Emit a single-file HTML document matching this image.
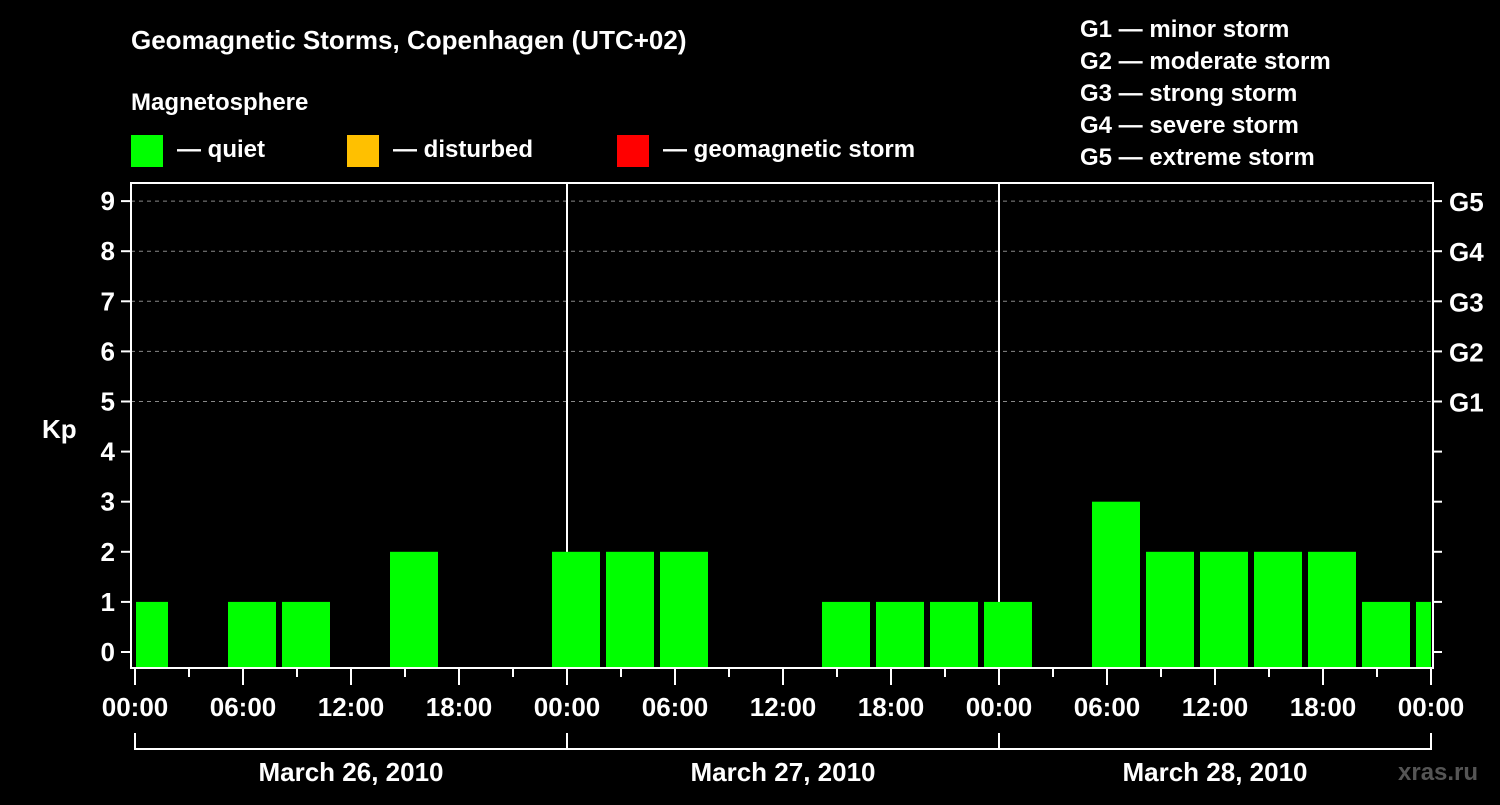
<!DOCTYPE html>
<html><head><meta charset="utf-8"><style>
html,body{margin:0;padding:0;background:#000;}
svg text{font-family:"Liberation Sans",sans-serif;font-weight:bold;fill:#fff;}
</style></head><body>
<svg width="1500" height="800" xmlns="http://www.w3.org/2000/svg">
<rect width="1500" height="800" fill="#000"/>
<text x="131" y="49" font-size="26">Geomagnetic Storms, Copenhagen (UTC+02)</text>
<text x="131" y="110" font-size="24">Magnetosphere</text>
<rect x="131" y="135" width="32" height="32" fill="#00ff00"/>
<text x="177" y="157" font-size="24">— quiet</text>
<rect x="347" y="135" width="32" height="32" fill="#ffc000"/>
<text x="393" y="157" font-size="24">— disturbed</text>
<rect x="617" y="135" width="32" height="32" fill="#ff0000"/>
<text x="663" y="157" font-size="24">— geomagnetic storm</text>
<g font-size="24">
<text x="1080" y="37">G1 — minor storm</text>
<text x="1080" y="69">G2 — moderate storm</text>
<text x="1080" y="101">G3 — strong storm</text>
<text x="1080" y="133">G4 — severe storm</text>
<text x="1080" y="165">G5 — extreme storm</text>
</g>
<text x="42" y="438" font-size="26">Kp</text>
<g id="plot"></g>
<text x="1398" y="780" font-size="24" style="fill:#555">xras.ru</text>
</svg>
<script>
const kpValues=[1,0,1,1,0,2,0,0,2,2,2,0,0,1,1,1,1,0,3,2,2,2,2,1,1];
const yTicks=[0,1,2,3,4,5,6,7,8,9];
const gLabels=["G1","G2","G3","G4","G5"];
const hourLabels=["00:00","06:00","12:00","18:00"];
const dayLabels=["March 26, 2010","March 27, 2010","March 28, 2010"];
const NS="http://www.w3.org/2000/svg";
const g=document.getElementById('plot');
const L=131,R=1433,T=183,B=668,X0=135,PXH=18;
const y=v=>652-v*50.1;
const x=h=>X0+h*PXH;
function mk(tag,attrs,parent){const e=document.createElementNS(NS,tag);for(const k in attrs)e.setAttribute(k,attrs[k]);(parent||g).appendChild(e);return e;}
// grid
for(let v=5;v<=9;v++){const e=mk('line',{x1:L,x2:R,y1:y(v),y2:y(v),stroke:'#888','stroke-width':1,'stroke-dasharray':'4,4'});

}
// day separators
[1,2].forEach(d=>{const e=mk('line',{x1:x(24*d),x2:x(24*d),y1:T,y2:B,stroke:'#fff','stroke-width':2});

});
// bars
kpValues.forEach((v,i)=>{if(v<=0)return;const h0=-1+3*i;let x1=x(h0)+3,x2=x(h0+3)-3;x1=Math.max(x1,L+5);x2=Math.min(x2,x(72));
const e=mk('rect',{x:x1,y:y(v),width:x2-x1,height:B-1-y(v),fill:'#00ff00'});

});
// frame
const f=mk('rect',{x:L,y:T,width:R-L,height:B-T,fill:'none',stroke:'#fff','stroke-width':2});


// y ticks
yTicks.forEach(v=>{mk('line',{x1:L-10,x2:L,y1:y(v),y2:y(v),stroke:'#fff','stroke-width':2});
mk('line',{x1:R,x2:R+9,y1:y(v),y2:y(v),stroke:'#fff','stroke-width':2});
const t=mk('text',{x:L-16,y:y(v)+9,'font-size':26,'text-anchor':'end'});t.textContent=v;

});
gLabels.forEach((s,i)=>{const t=mk('text',{x:1449,y:y(5+i)+10,'font-size':26});t.textContent=s;

});
// x ticks
for(let h=0;h<=72;h+=3){const major=h%6===0;mk('line',{x1:x(h),x2:x(h),y1:B,y2:B+(major?17:9),stroke:'#fff','stroke-width':2});
if(major){const t=mk('text',{x:x(h),y:716,'font-size':26,'text-anchor':'middle'});t.textContent=hourLabels[(h/6)%4];

}}
// day brackets
mk('line',{x1:x(0),x2:x(72),y1:749,y2:749,stroke:'#fff','stroke-width':2});
for(let d=0;d<=3;d++)mk('line',{x1:x(24*d),x2:x(24*d),y1:733,y2:750,stroke:'#fff','stroke-width':2});
dayLabels.forEach((s,d)=>{const t=mk('text',{x:x(24*d+12),y:781,'font-size':26,'text-anchor':'middle'});t.textContent=s;

});
</script>
</body></html>
